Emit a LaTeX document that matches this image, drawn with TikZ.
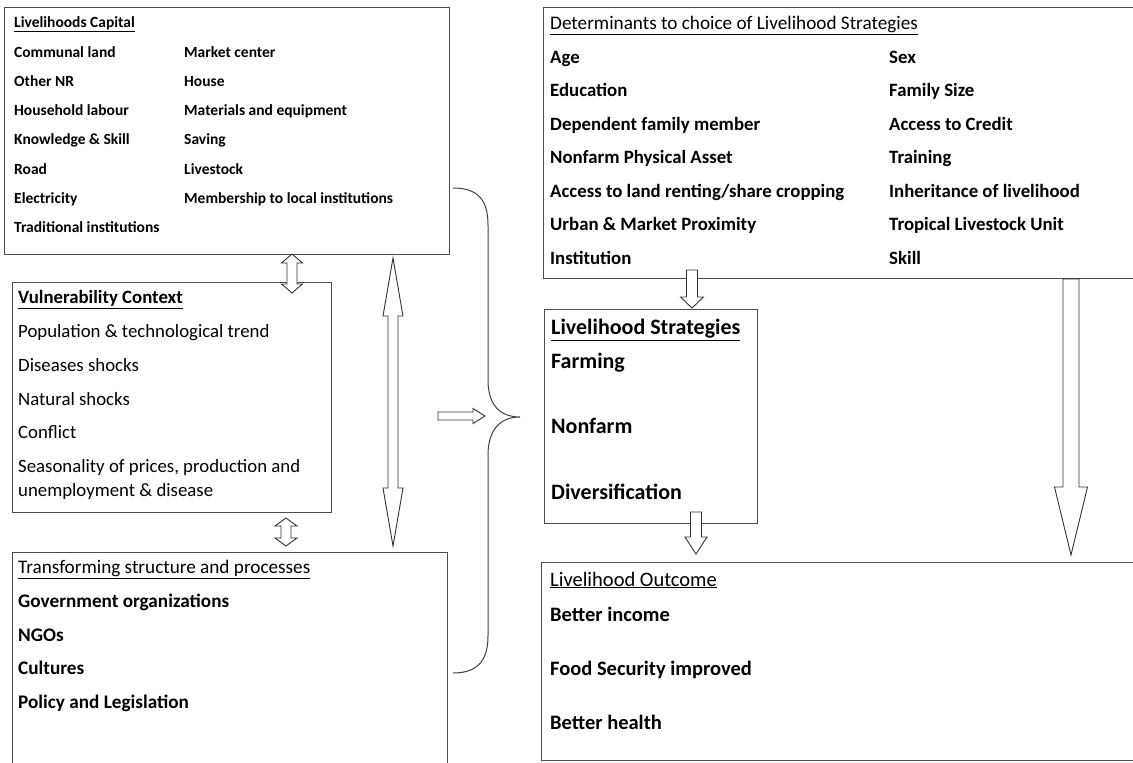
\documentclass[tikz,border=0pt]{standalone}
\usepackage{fontspec}
\setmainfont{Carlito}
\tikzset{
  box/.style={draw=black!70, line width=1.2pt, inner sep=0pt, anchor=north west},
  lbl/.style={anchor=base west, inner sep=0pt},
  blockarrow/.style={draw=black!80, line width=0.9pt, fill=white},
  brace/.style={draw=black!75, line width=1pt},
}
\newcommand{\fs}[1]{\fontsize{#1}{#1}\selectfont}
% down arrow: x, top, tip, half shaft, half head, head length
\newcommand{\downblock}[6]{%
  \draw[blockarrow] (#1-#4,#2) -- (#1+#4,#2) -- (#1+#4,#3-#6) -- (#1+#5,#3-#6)
    -- (#1,#3) -- (#1-#5,#3-#6) -- (#1-#4,#3-#6) -- cycle;}
% up-down arrow: x, top tip, bottom tip, half shaft, half head, head length
\newcommand{\updownblock}[6]{%
  \draw[blockarrow] (#1,#2) -- (#1+#5,#2+#6) -- (#1+#4,#2+#6) -- (#1+#4,#3-#6)
    -- (#1+#5,#3-#6) -- (#1,#3) -- (#1-#5,#3-#6) -- (#1-#4,#3-#6)
    -- (#1-#4,#2+#6) -- (#1-#5,#2+#6) -- cycle;}
\begin{document}
\begin{tikzpicture}[x=1pt,y=-1pt]
  \clip (0,0) rectangle (1133,763);

  % boxes
  \node[box, minimum width=445pt, minimum height=247pt] (capital) at (4,7) {};
  \node[box, minimum width=319pt, minimum height=230pt] (vulner) at (12,282) {};
  \node[box, minimum width=435pt, minimum height=230pt] (transf) at (12,552) {};
  \node[box, minimum width=600pt, minimum height=271pt] (determ) at (543,7) {};
  \node[box, minimum width=213pt, minimum height=214pt] (strat) at (544,309) {};
  \node[box, minimum width=600pt, minimum height=198pt] (outcome) at (541,562) {};

  % Livelihoods Capital
  \node[lbl, font=\fs{15.5}\bfseries] (capt) at (14,27.7) {\underline{Livelihoods Capital}};
  \foreach \t [count=\i] in {Communal land, Other NR, Household labour,
      Knowledge \& Skill, Road, Electricity, Traditional institutions}
    \node[lbl, font=\fs{15.5}\bfseries] (capa\i) at (14,27.7+29.3*\i) {\t};
  \foreach \t [count=\i] in {Market center, House, Materials and equipment,
      Saving, Livestock, Membership to local institutions}
    \node[lbl, font=\fs{15.5}\bfseries] (capb\i) at (184,27.7+29.3*\i) {\t};

  % Vulnerability Context
  \node[lbl, font=\fs{18.8}\bfseries] (vult) at (18,303.6) {\underline{Vulnerability Context}};
  \foreach \t [count=\i] in {Population \& technological trend, Diseases shocks,
      Natural shocks, Conflict, {Seasonality of prices, production and}}
    \node[lbl, font=\fs{18.8}] (vul\i) at (18,303.6+33.8*\i) {\t};
  \node[lbl, font=\fs{18.8}] (vul6) at (18,496.6) {unemployment \& disease};

  % Transforming structure and processes
  \node[lbl, font=\fs{19.2}] (trat) at (18,573.8) {\underline{Transforming structure and processes}};
  \foreach \t [count=\i] in {Government organizations, NGOs, Cultures, Policy and Legislation}
    \node[lbl, font=\fs{19.2}\bfseries] (tra\i) at (18,573.8+33.7*\i) {\t};

  % Determinants
  \node[lbl, font=\fs{19.2}] (dett) at (550,29.6) {\underline{Determinants to choice of Livelihood Strategies}};
  \foreach \t [count=\i] in {Age, Education, Dependent family member, Nonfarm Physical Asset,
      Access to land renting/share cropping, Urban \& Market Proximity, Institution}
    \node[lbl, font=\fs{18.8}\bfseries] (deta\i) at (550,29.6+33.5*\i) {\t};
  \foreach \t [count=\i] in {Sex, Family Size, Access to Credit, Training,
      Inheritance of livelihood, Tropical Livestock Unit, Skill}
    \node[lbl, font=\fs{18.8}\bfseries] (detb\i) at (889,29.6+33.5*\i) {\t};

  % Livelihood Strategies
  \node[lbl, font=\fs{22}\bfseries] (strt) at (551,334.6) {\underline{Livelihood Strategies}};
  \node[lbl, font=\fs{22}\bfseries] (str1) at (551,368.6) {Farming};
  \node[lbl, font=\fs{22}\bfseries] (str2) at (551,433.6) {Nonfarm};
  \node[lbl, font=\fs{22}\bfseries] (str3) at (551,499.6) {Diversification};

  % Livelihood Outcome
  \node[lbl, font=\fs{20.5}] (outt) at (550,586) {\underline{Livelihood Outcome}};
  \node[lbl, font=\fs{20.5}\bfseries] (out1) at (550,621) {Better income};
  \node[lbl, font=\fs{20.5}\bfseries] (out2) at (550,675) {Food Security improved};
  \node[lbl, font=\fs{20.5}\bfseries] (out3) at (550,729) {Better health};

  % arrows
  \updownblock{292}{254}{293}{5}{10.5}{9}
  \updownblock{286}{518}{546}{5}{11}{8}
  \updownblock{393}{258}{546}{5}{10}{58}
  \downblock{692}{270}{308}{5.5}{11.5}{11}
  \downblock{696}{512}{554}{5.5}{11}{17}
  \downblock{1071}{279}{555}{8}{16.5}{68}
  \draw[blockarrow] (438,412) -- (473,412) -- (473,408.5) -- (485,416)
    -- (473,423.5) -- (473,420) -- (438,420) -- cycle;

  % brace
  \draw[brace] (453,188) .. controls (478,188) and (488,200) .. (488,225) -- (488,380)
    .. controls (488,405) and (500,417) .. (520,417)
    .. controls (500,417) and (488,430) .. (488,455) -- (488,636)
    .. controls (488,660) and (478,673) .. (453,673);
\end{tikzpicture}
\end{document}
